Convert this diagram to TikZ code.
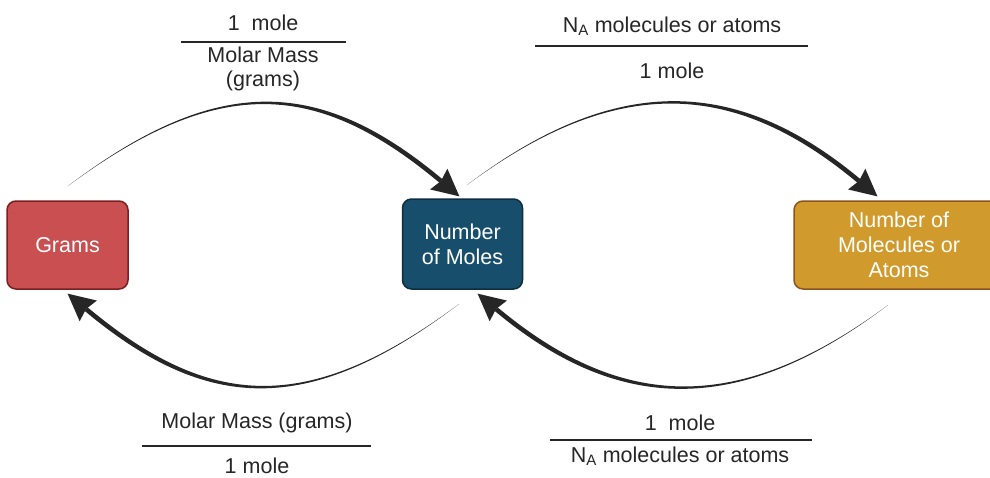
\documentclass[tikz,border=0pt]{standalone}
\usepackage{fontspec}
\setmainfont{Liberation Sans}
\usetikzlibrary{calc}
\definecolor{gramfill}{HTML}{C94F50}
\definecolor{gramdraw}{HTML}{7A1F22}
\definecolor{molfill}{HTML}{174E6B}
\definecolor{moldraw}{HTML}{0D2E40}
\definecolor{atomfill}{HTML}{D09A2C}
\definecolor{atomdraw}{HTML}{8A5420}
\definecolor{ink}{HTML}{262626}
\newcommand{\taperarrow}[1]{%
  \coordinate (#1B1) at ($(#1B)!2.3pt!90:(#1C2)$);
  \coordinate (#1B2) at ($(#1B)!2.3pt!-90:(#1C2)$);
  \coordinate (#1Ca) at ($(#1C1)!1.1pt!90:(#1A)$);
  \coordinate (#1Cb) at ($(#1C1)!1.1pt!-90:(#1A)$);
  \coordinate (#1P) at ($(#1B)!3pt!(#1C2)$);
  \coordinate (#1H1) at ($(#1P)!13.5pt!90:(#1B)$);
  \coordinate (#1H2) at ($(#1P)!13.5pt!-90:(#1B)$);
  \coordinate (#1T) at ($(#1B)!-24pt!(#1C2)$);
  \fill[ink] (#1A) .. controls (#1Ca) and ($(#1C2)+(#1B1)-(#1B)$) .. (#1B1)
     -- (#1B2) .. controls ($(#1C2)+(#1B2)-(#1B)$) and (#1Cb) .. (#1A) -- cycle;
  \fill[ink] (#1T) -- (#1H1) -- (#1B) -- (#1H2) -- cycle;
}
\begin{document}
\begin{tikzpicture}[x=1pt,y=-1pt,
  box/.style={rectangle, rounded corners=9pt, line width=1.5pt, text=white,
    align=center, font=\fontsize{21.5}{25}\selectfont, inner sep=0pt},
  lbl/.style={text=ink, align=center, font=\fontsize{21.5}{24.5}\selectfont, inner sep=0pt},
  fracline/.style={draw=ink, line width=1.4pt}]
\clip (0,0) rectangle (990,477);
\fill[white] (0,0) rectangle (990,477);

% boxes
\node[box, fill=gramfill, draw=gramdraw, minimum width=121pt, minimum height=88pt] (grams) at (67.5,245) {Grams};
\node[box, fill=molfill, draw=moldraw, minimum width=120pt, minimum height=90pt] (moles) at (462.5,244) {Number\\of Moles};
\node[box, fill=atomfill, draw=atomdraw, minimum width=210pt, minimum height=88pt] (atoms) at (899,245) {Number of\\Molecules or\\Atoms};

% top-left arrow (grams -> moles)
\coordinate (tlA) at (68,186);
\coordinate (tlC1) at (220,72);
\coordinate (tlC2) at (320,80);
\coordinate (tlB) at (441,181);
\taperarrow{tl}
% top-right arrow (moles -> atoms)
\coordinate (trA) at (467,185);
\coordinate (trC1) at (619,71);
\coordinate (trC2) at (738,80);
\coordinate (trB) at (859,181);
\taperarrow{tr}
% bottom-left arrow (moles -> grams)
\coordinate (blA) at (459,304);
\coordinate (blC1) at (307,418);
\coordinate (blC2) at (207,410);
\coordinate (blB) at (86,309);
\taperarrow{bl}
% bottom-right arrow (atoms -> moles)
\coordinate (brA) at (888,305);
\coordinate (brC1) at (736,419);
\coordinate (brC2) at (617,410);
\coordinate (brB) at (496,309);
\taperarrow{br}

% top-left fraction
\node[lbl] (tln) at (263,23) {1\ \ mole};
\coordinate (tlL1) at (181,42);
\coordinate (tlL2) at (346,42);
\draw[fracline] (tlL1) -- (tlL2);
\node[lbl] (tld) at (263,69) {Molar Mass\\(grams)};

% top-right fraction
\node[lbl] (trn) at (672,26) {N\textsubscript{A} molecules or atoms};
\coordinate (trL1) at (535,46);
\coordinate (trL2) at (808,46);
\draw[fracline] (trL1) -- (trL2);
\node[lbl] (trd) at (672,71) {1 mole};

% bottom-left fraction
\node[lbl] (bln) at (257,423) {Molar Mass (grams)};
\coordinate (blL1) at (142,446);
\coordinate (blL2) at (371,446);
\draw[fracline] (blL1) -- (blL2);
\node[lbl] (bld) at (257,466) {1 mole};

% bottom-right fraction
\node[lbl] (brn) at (680,423) {1\ \ mole};
\coordinate (brL1) at (550,440);
\coordinate (brL2) at (812,440);
\draw[fracline] (brL1) -- (brL2);
\node[lbl] (brd) at (680,456) {N\textsubscript{A} molecules or atoms};
\end{tikzpicture}
\end{document}
